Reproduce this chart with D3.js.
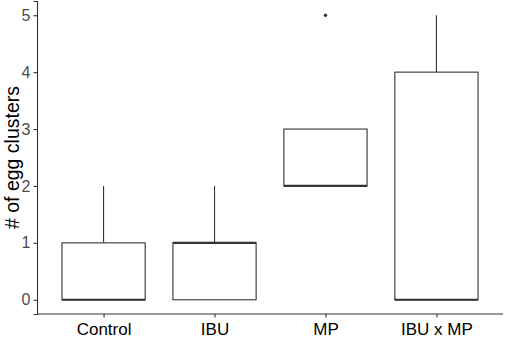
<!DOCTYPE html>
<html>
<head>
<meta charset="utf-8">
<script src="https://cdn.jsdelivr.net/npm/d3@7"></script>
<style>
  body { margin: 0; background: #fff; }
  text { font-family: "Liberation Sans", Arial, sans-serif; }
</style>
</head>
<body>
<div id="chart"></div>
<script>
const width = 505;
const height = 339;

// boxplot stats
const groups = ["Control", "IBU", "MP", "IBU x MP"];
const q1 = [0, 0, 2, 0];
const medians = [0, 1, 2, 0];
const q3 = [1, 1, 3, 4];
const whiskerLow = [0, 0, 2, 0];
const whiskerHigh = [2, 2, 3, 5];
const outliers = [[], [], [5], []];
const yTicks = [0, 1, 2, 3, 4, 5];

const margin = { top: 1, right: 2, bottom: 25, left: 37 };

const svg = d3.select("#chart")
    .append("svg")
    .attr("width", width)
    .attr("height", height);

// ggplot style: discrete axis expanded by 0.6 on each side
const x = d3.scaleLinear()
    .domain([0.4, groups.length + 0.6])
    .range([margin.left, width - margin.right]);

const y = d3.scaleLinear()
    .domain([-0.25, 5.25])
    .range([height - margin.bottom, margin.top]);

const boxHalf = 0.375;
const lineColor = "#333333";

const boxes = svg.append("g")
    .selectAll("g")
    .data(groups)
    .join("g");

// whiskers
boxes.append("line")
    .attr("x1", (d, i) => x(i + 1))
    .attr("x2", (d, i) => x(i + 1))
    .attr("y1", (d, i) => y(q3[i]))
    .attr("y2", (d, i) => y(whiskerHigh[i]))
    .attr("stroke", lineColor)
    .attr("stroke-width", 1.1);

boxes.append("line")
    .attr("x1", (d, i) => x(i + 1))
    .attr("x2", (d, i) => x(i + 1))
    .attr("y1", (d, i) => y(q1[i]))
    .attr("y2", (d, i) => y(whiskerLow[i]))
    .attr("stroke", lineColor)
    .attr("stroke-width", 1.1);

// box
boxes.append("rect")
    .attr("x", (d, i) => x(i + 1 - boxHalf))
    .attr("y", (d, i) => y(q3[i]))
    .attr("width", (d, i) => x(i + 1 + boxHalf) - x(i + 1 - boxHalf))
    .attr("height", (d, i) => y(q1[i]) - y(q3[i]))
    .attr("fill", "white")
    .attr("stroke", lineColor)
    .attr("stroke-width", 1.1);

// median (thicker)
boxes.append("line")
    .attr("x1", (d, i) => x(i + 1 - boxHalf))
    .attr("x2", (d, i) => x(i + 1 + boxHalf))
    .attr("y1", (d, i) => y(medians[i]))
    .attr("y2", (d, i) => y(medians[i]))
    .attr("stroke", lineColor)
    .attr("stroke-width", 2.2);

// outliers
boxes.selectAll("circle")
    .data((d, i) => outliers[i].map((v) => ({ g: i, v: v })))
    .join("circle")
    .attr("cx", (d) => x(d.g + 1))
    .attr("cy", (d) => y(d.v))
    .attr("r", 1.7)
    .attr("fill", lineColor);

// y axis
const yAxis = svg.append("g")
    .attr("transform", `translate(${margin.left},0)`)
    .call(d3.axisLeft(y).tickValues(yTicks).tickSize(3.5).tickPadding(3).tickFormat(d3.format("d")));
yAxis.select(".domain").attr("stroke", lineColor).attr("stroke-width", 1.1);
yAxis.selectAll(".tick line").attr("stroke", lineColor).attr("stroke-width", 1.1);
yAxis.selectAll(".tick text")
    .attr("fill", "#4D4D4D")
    .style("font-size", "16px")
    .style("font-family", "'Liberation Sans', Arial, sans-serif");

// x axis
const xAxis = svg.append("g")
    .attr("transform", `translate(0,${height - margin.bottom})`)
    .call(d3.axisBottom(x)
        .tickValues(groups.map((d, i) => i + 1))
        .tickSize(3.5)
        .tickPadding(5)
        .tickFormat((d) => groups[d - 1]));
xAxis.select(".domain").attr("stroke", lineColor).attr("stroke-width", 1.1)
    .attr("d", `M${margin.left},0H${width - margin.right}`);
xAxis.selectAll(".tick line").attr("stroke", lineColor).attr("stroke-width", 1.1);
xAxis.selectAll(".tick text")
    .attr("fill", "#000")
    .style("font-size", "17px")
    .style("font-family", "'Liberation Sans', Arial, sans-serif");

// y title
svg.append("text")
    .attr("transform", `translate(19,${(y(-0.25) + y(5.25)) / 2}) rotate(-90)`)
    .attr("text-anchor", "middle")
    .attr("fill", "#000")
    .style("font-size", "19.5px")
    .text("# of egg clusters");
</script>
</body>
</html>
